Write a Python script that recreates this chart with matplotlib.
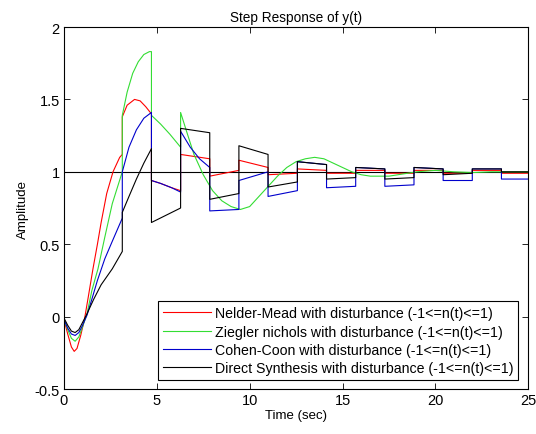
import matplotlib
matplotlib.use("Agg")
import matplotlib.pyplot as plt

plt.rcParams['font.family'] = ['Liberation Sans', 'DejaVu Sans']

#----------------------data----------------------
# repeated times mark the jumps from the disturbance
t_nm = [0, 0.2, 0.4, 0.55, 0.7, 0.9, 1.1, 1.3, 1.56, 1.8, 2.0, 2.3, 2.64, 3.0, 3.14,
        3.14, 3.4, 3.8, 4.1, 4.4, 4.71, 4.71, 5.2, 5.8, 6.28, 6.28, 7.85, 7.85, 9.42,
        9.42, 10.99, 10.99, 12.57, 12.57, 14.14, 14.14, 15.71, 15.71, 17.28, 17.28,
        18.85, 18.85, 20.42, 20.42, 21.99, 21.99, 23.56, 23.56, 25]
y_nm = [-0.02, -0.12, -0.21, -0.24, -0.22, -0.13, -0.02, 0.13, 0.33, 0.5, 0.65, 0.85, 1.0, 1.1, 1.12,
        1.38, 1.46, 1.5, 1.49, 1.45, 1.4, 0.94, 0.92, 0.89, 0.87, 1.12, 1.09, 0.97, 1.01,
        1.08, 1.03, 0.98, 0.99, 1.02, 1.01, 0.99, 0.99, 1.01, 1.01, 0.99,
        0.99, 1.01, 1.01, 0.99, 0.99, 1.01, 1.01, 0.99, 0.99]

t_zn = [0, 0.2, 0.4, 0.6, 0.8, 1.0, 1.24, 1.5, 1.83, 2.2, 2.6, 3.14,
        3.14, 3.4, 3.7, 4.0, 4.3, 4.6, 4.71, 4.71, 5.2, 5.7, 6.28,
        6.28, 6.6, 7.0, 7.5, 8.0, 8.5, 9.0, 9.5, 10.0, 10.5, 11.0, 11.5, 12.0, 12.5,
        13.0, 13.5, 14.0, 14.5, 15.0, 15.5, 16.0, 16.5, 17.0, 17.5, 18.0, 18.5, 19.0,
        20.0, 21.0, 22.0, 23.0, 25]
y_zn = [-0.02, -0.09, -0.15, -0.17, -0.14, -0.07, 0.02, 0.18, 0.33, 0.55, 0.78, 1.0,
        1.39, 1.55, 1.68, 1.76, 1.81, 1.83, 1.83, 1.39, 1.33, 1.26, 1.17,
        1.41, 1.28, 1.12, 0.98, 0.87, 0.8, 0.76, 0.74, 0.76, 0.83, 0.9, 0.97, 1.03, 1.07,
        1.09, 1.1, 1.09, 1.06, 1.03, 1.0, 0.98, 0.97, 0.97, 0.97, 0.98, 0.99, 1.0,
        1.01, 1.0, 0.995, 1.0, 1.0]

t_cc = [0, 0.2, 0.4, 0.6, 0.8, 1.0, 1.24, 1.5, 1.8, 2.2, 2.6, 3.14,
        3.14, 3.5, 3.9, 4.3, 4.71, 4.71, 5.2, 5.8, 6.28, 6.28, 6.8, 7.3, 7.85,
        7.85, 9.42, 9.42, 10.99, 10.99, 12.57, 12.57, 14.14, 14.14, 15.71, 15.71, 17.28,
        17.28, 18.85, 18.85, 20.42, 20.42, 21.99, 21.99, 23.56, 23.56, 25]
y_cc = [-0.02, -0.08, -0.12, -0.13, -0.11, -0.06, 0.01, 0.12, 0.25, 0.4, 0.52, 0.68,
        1.0, 1.17, 1.29, 1.37, 1.41, 0.94, 0.92, 0.89, 0.86, 1.28, 1.17, 1.09, 1.03,
        0.73, 0.74, 0.94, 1.0, 0.83, 0.87, 1.07, 1.05, 0.89, 0.9, 1.03, 1.02,
        0.9, 0.91, 1.03, 1.02, 0.94, 0.94, 1.02, 1.02, 0.95, 0.95]

t_ds = [0, 0.2, 0.4, 0.6, 0.8, 1.0, 1.24, 1.6, 2.0, 2.6, 3.14,
        3.14, 3.5, 3.9, 4.3, 4.71, 4.71, 6.28, 6.28, 7.85, 7.85, 9.42, 9.42, 10.99,
        10.99, 12.57, 12.57, 14.14, 14.14, 15.71, 15.71, 17.28, 17.28, 18.85, 18.85,
        20.42, 20.42, 21.99, 21.99, 23.56, 23.56, 25]
y_ds = [-0.01, -0.06, -0.1, -0.11, -0.09, -0.04, 0.02, 0.12, 0.22, 0.33, 0.45,
        0.72, 0.83, 0.95, 1.06, 1.16, 0.65, 0.75, 1.3, 1.27, 0.81, 0.85, 1.18, 1.12,
        0.895, 0.93, 1.07, 1.05, 0.95, 0.96, 1.03, 1.02, 0.95, 0.96, 1.03,
        1.02, 0.98, 0.99, 1.02, 1.02, 1.0, 1.0]

names = ['Nelder-Mead with disturbance (-1<=n(t)<=1)',
         'Ziegler nichols with disturbance (-1<=n(t)<=1)',
         'Cohen-Coon with disturbance (-1<=n(t)<=1)',
         'Direct Synthesis with disturbance (-1<=n(t)<=1)']

#-------------------画图--------------------
fig = plt.figure(figsize=(5.36, 4.35), dpi=100)
ax = fig.add_axes([0.1194, 0.1034, 0.866, 0.8322])

ax.axhline(1, color='k', linewidth=0.8)
ax.plot(t_nm, y_nm, color='#ff0000', linewidth=0.8, label=names[0])
ax.plot(t_zn, y_zn, color='#33dd33', linewidth=0.8, label=names[1])
ax.plot(t_cc, y_cc, color='#0000cc', linewidth=0.8, label=names[2])
ax.plot(t_ds, y_ds, color='k', linewidth=0.8, label=names[3])

ax.set_xlim(0, 25)
ax.set_ylim(-0.5, 2)
ax.set_xticks([0, 5, 10, 15, 20, 25])
ax.set_yticks([-0.5, 0, 0.5, 1, 1.5, 2])
ax.set_yticklabels(['-0.5', '0', '0.5', '1', '1.5', '2'])
ax.tick_params(direction='in', top=True, right=True, labelsize=10.5, length=4, width=0.6, pad=3)
for s in ax.spines.values():
    s.set_linewidth(0.8)

ax.set_title('Step Response of y(t)', fontsize=9.8, pad=4)
ax.set_xlabel('Time (sec)', fontsize=9.5, labelpad=1)
ax.set_ylabel('Amplitude', fontsize=9.5, labelpad=4)

leg = ax.legend(loc='lower right', bbox_to_anchor=(0.978, 0.025), borderaxespad=0,
                fontsize=10.2, fancybox=False, framealpha=1, edgecolor='k',
                handlelength=3.4, handletextpad=0.25, labelspacing=0.3,
                borderpad=0.35)
leg.get_frame().set_linewidth(0.8)

fig.savefig('out.png', dpi=100)
